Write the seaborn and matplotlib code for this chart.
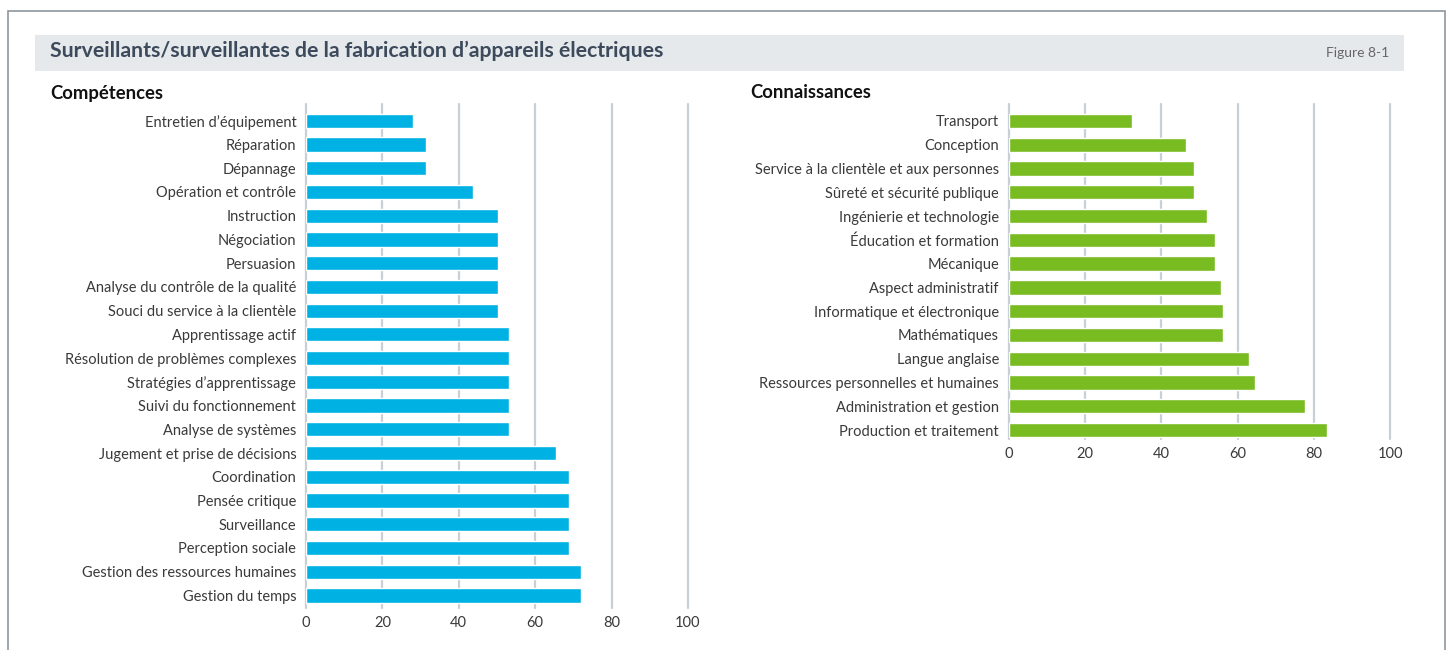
import matplotlib
matplotlib.use("Agg")
import matplotlib.pyplot as plt
from matplotlib.patches import Rectangle
import pandas as pd
import seaborn as sns

# Data
COMP_LABELS = ["Entretien d\u2019équipement", "Réparation", "Dépannage", "Opération et contrôle",
               "Instruction", "Négociation", "Persuasion", "Analyse du contrôle de la qualité",
               "Souci du service à la clientèle", "Apprentissage actif",
               "Résolution de problèmes complexes", "Stratégies d\u2019apprentissage",
               "Suivi du fonctionnement", "Analyse de systèmes", "Jugement et prise de décisions",
               "Coordination", "Pensée critique", "Surveillance", "Perception sociale",
               "Gestion des ressources humaines", "Gestion du temps"]
COMP_VALUES = [28.0, 31.4, 31.4, 43.7, 50.3, 50.3, 50.3, 50.3, 50.3, 53.1, 53.1, 53.1, 53.1, 53.1,
               65.4, 68.8, 68.8, 68.8, 68.8, 72.0, 72.0]

CONN_LABELS = ["Transport", "Conception", "Service à la clientèle et aux personnes",
               "Sûreté et sécurité publique", "Ingénierie et technologie", "Éducation et formation",
               "Mécanique", "Aspect administratif", "Informatique et électronique", "Mathématiques",
               "Langue anglaise", "Ressources personnelles et humaines", "Administration et gestion",
               "Production et traitement"]
CONN_VALUES = [32.3, 46.5, 48.6, 48.6, 52.0, 54.1, 54.1, 55.6, 56.2, 56.2, 63.0, 64.6, 77.7, 83.4]

X_TICKS = [0, 20, 40, 60, 80, 100]

TITLE = "Surveillants/surveillantes de la fabrication d\u2019appareils électriques"
FIG_LABEL = "Figure 8-1"

BLUE = "#00b2e3"
GREEN = "#78bc22"
GRID = "#c9cfd6"
TEXT = "#3a3a3a"
HEAD = "#3d4a5c"

W, H = 1448, 650


def fig_box(x0, y0, x1, y1):
    # pixel box (top-left origin) -> figure fraction rect
    return [x0 / W, 1 - y1 / H, (x1 - x0) / W, (y1 - y0) / H]


def draw_panel(fig, box, labels, values, color, ylim):
    ax = fig.add_axes(box)
    df = pd.DataFrame({"label": labels, "value": values})
    sns.barplot(data=df, x="value", y="label", orient="h", color=color,
                saturation=1, width=0.6, ax=ax)
    ax.set_xlim(0, 100)
    ax.set_ylim(*ylim)
    ax.set_xticks(X_TICKS)
    ax.set_xlabel("")
    ax.set_ylabel("")
    for s in ax.spines.values():
        s.set_visible(False)
    ax.set_axisbelow(True)
    ax.grid(axis="x", color=GRID, linewidth=1.6)
    ax.grid(axis="y", visible=False)
    # keep the 0 and 100 lines visible at the axes edges
    for gl in ax.get_xgridlines():
        gl.set_clip_on(False)
    ax.tick_params(axis="both", length=0, labelsize=10.5, labelcolor=TEXT)
    ax.tick_params(axis="y", pad=7)
    ax.tick_params(axis="x", pad=6)
    ax.set_facecolor("white")
    return ax


sns.set_theme(style="white")
plt.rcParams["font.family"] = ["Lato", "DejaVu Sans"]

fig = plt.figure(figsize=(W / 100, H / 100), dpi=100)

# outer frame and title band
fig.patches.append(Rectangle((8 / W, -0.05), (1445 - 8) / W, 1.05 - 11 / H,
                             transform=fig.transFigure, fill=False,
                             edgecolor="#8e979e", linewidth=1.2))
fig.patches.append(Rectangle((35 / W, 1 - 71 / H), (1404 - 35) / W, 36 / H,
                             transform=fig.transFigure, facecolor="#e5e9eb",
                             edgecolor="none"))
fig.text(50 / W, 1 - 51 / H, TITLE, fontsize=15.3, fontweight="bold", color=HEAD,
         va="center", ha="left")
fig.text(1389 / W, 1 - 53 / H, FIG_LABEL, fontsize=10, color="#666666",
         va="center", ha="right")

fig.text(50 / W, 1 - 93 / H, "Compétences", fontsize=13.3, fontweight="bold",
         color="#111111", va="center", ha="left")
fig.text(750 / W, 1 - 93 / H, "Connaissances", fontsize=13.3, fontweight="bold",
         color="#111111", va="center", ha="left")

draw_panel(fig, fig_box(306, 104, 688, 608), COMP_LABELS, COMP_VALUES, BLUE,
           (20 + 12 / 22.6, -16 / 22.6))
draw_panel(fig, fig_box(1008.7, 104, 1390.3, 439), CONN_LABELS, CONN_VALUES, GREEN,
           (13 + 9 / 23.8, -17 / 23.8))

fig.savefig("out.png", dpi=100)
